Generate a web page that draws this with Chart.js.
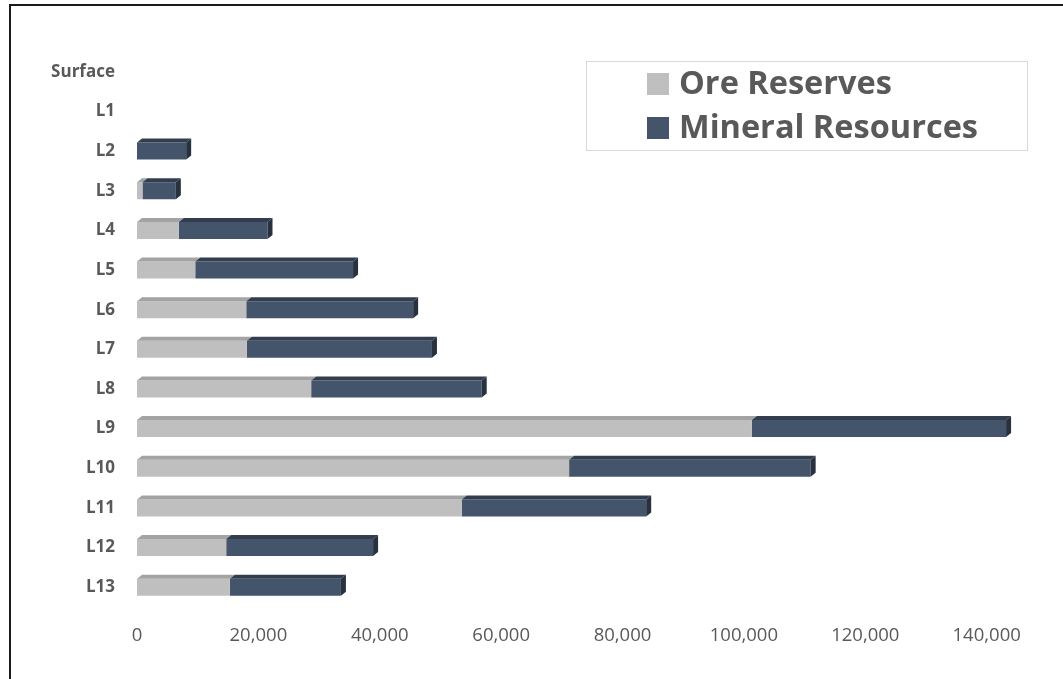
<!DOCTYPE html>
<html>
<head>
<meta charset="utf-8">
<script src="https://cdn.jsdelivr.net/npm/chart.js@4.4.1/dist/chart.umd.min.js"></script>
<style>
  html, body { margin: 0; padding: 0; background: #fff; }
  #wrap { position: relative; width: 1063px; height: 679px; overflow: hidden; }
  #frame { position: absolute; left: 9px; top: 4px; width: 1100px; height: 700px;
           border-left: 2px solid #1a1a1a; border-top: 2px solid #1a1a1a; box-sizing: border-box; pointer-events: none; }
  canvas { position: absolute; left: 0; top: 0; }
</style>
</head>
<body>
<div id="wrap">
  <canvas id="c" width="1063" height="679"></canvas>
  <div id="frame"></div>
</div>
<script>
const categories = ['Surface','L1','L2','L3','L4','L5','L6','L7','L8','L9','L10','L11','L12','L13'];
const oreReserves = [null, null, null, 900, 6900, 9600, 18000, 18100, 28700, 101300, 71200, 53500, 14700, 15300];
const mineralResources = [null, null, 8100, 5500, 14600, 26000, 27500, 30500, 28100, 41900, 39800, 30400, 24200, 18300];
const xTickValues = [0, 20000, 40000, 60000, 80000, 100000, 120000, 140000];
const seriesNames = ['Ore Reserves', 'Mineral Resources'];

const GREY = '#bfbfbf', GREY_TOP = '#a3a3a3';
const BLUE = '#44546a', BLUE_TOP = '#323e4f', BLUE_SIDE = '#28323f';
const TEXT = '#595959';
const FONT = '"Open Sans", Lato, sans-serif';

const bar3d = {
  id: 'bar3d',
  afterDatasetsDraw(chart) {
    const ctx = chart.ctx;
    const d = 5, dv = 4;
    chart.data.datasets.forEach((ds, di) => {
      const meta = chart.getDatasetMeta(di);
      meta.data.forEach((el, i) => {
        const v = ds.data[i];
        if (!v) return;
        const p = el.getProps(['x','y','base','height'], true);
        const top = p.y - p.height / 2, bot = p.y + p.height / 2;
        const l = Math.min(p.x, p.base), r = Math.max(p.x, p.base);
        ctx.save();
        ctx.fillStyle = di === 0 ? GREY_TOP : BLUE_TOP;
        ctx.beginPath();
        ctx.moveTo(l, top); ctx.lineTo(r, top); ctx.lineTo(r + d, top - dv); ctx.lineTo(l + d, top - dv);
        ctx.closePath(); ctx.fill();
        const isLast = di === chart.data.datasets.length - 1 || !chart.data.datasets[di + 1].data[i];
        if (isLast) {
          ctx.fillStyle = di === 0 ? '#8f8f8f' : BLUE_SIDE;
          ctx.beginPath();
          ctx.moveTo(r, top); ctx.lineTo(r + d, top - dv); ctx.lineTo(r + d, bot - dv); ctx.lineTo(r, bot);
          ctx.closePath(); ctx.fill();
        }
        ctx.restore();
      });
    });
  }
};

const legendBox = {
  id: 'legendBox',
  afterDraw(chart) {
    const ctx = chart.ctx;
    ctx.save();
    ctx.strokeStyle = '#d9d9d9';
    ctx.lineWidth = 1;
    ctx.strokeRect(586.5, 61.5, 441, 89);
    const colors = [GREY, BLUE];
    const ys = [84, 128];
    ctx.font = 'bold 32.5px ' + FONT;
    ctx.textBaseline = 'middle';
    ctx.textAlign = 'left';
    seriesNames.forEach((name, k) => {
      ctx.fillStyle = colors[k];
      ctx.fillRect(647, ys[k] - 11, 22, 22);
      ctx.fillStyle = TEXT;
      ctx.fillText(name, 679, ys[k] + 1);
    });
    ctx.restore();
  }
};

new Chart(document.getElementById('c'), {
  type: 'bar',
  data: {
    labels: categories,
    datasets: [
      { label: seriesNames[0], data: oreReserves, backgroundColor: GREY, barThickness: 17, inflateAmount: 0 },
      { label: seriesNames[1], data: mineralResources, backgroundColor: BLUE, barThickness: 17, inflateAmount: 0 }
    ]
  },
  options: {
    indexAxis: 'y',
    responsive: false,
    animation: false,
    layout: { padding: { top: 52, right: 46, bottom: 0, left: 0 } },
    plugins: { legend: { display: false }, tooltip: { enabled: false } },
    scales: {
      y: {
        stacked: true,
        grid: { display: false, drawTicks: false },
        border: { display: false },
        ticks: { color: TEXT, font: { family: FONT, size: 17, weight: 'bold' }, padding: 22 },
        afterFit(scale) { scale.width = 137; }
      },
      x: {
        stacked: true,
        min: 0,
        max: 145000,
        grid: { display: false, drawTicks: false },
        border: { display: false },
        afterBuildTicks(scale) { scale.ticks = xTickValues.map(v => ({ value: v })); },
        ticks: {
          color: TEXT,
          font: { family: FONT, size: 18.5 },
          padding: 18,
          maxRotation: 0,
          autoSkip: false,
          callback: (v) => Number(v).toLocaleString('en-US')
        },
        afterFit(scale) { scale.height = 72; }
      }
    }
  },
  plugins: [bar3d, legendBox]
});
</script>
</body>
</html>
